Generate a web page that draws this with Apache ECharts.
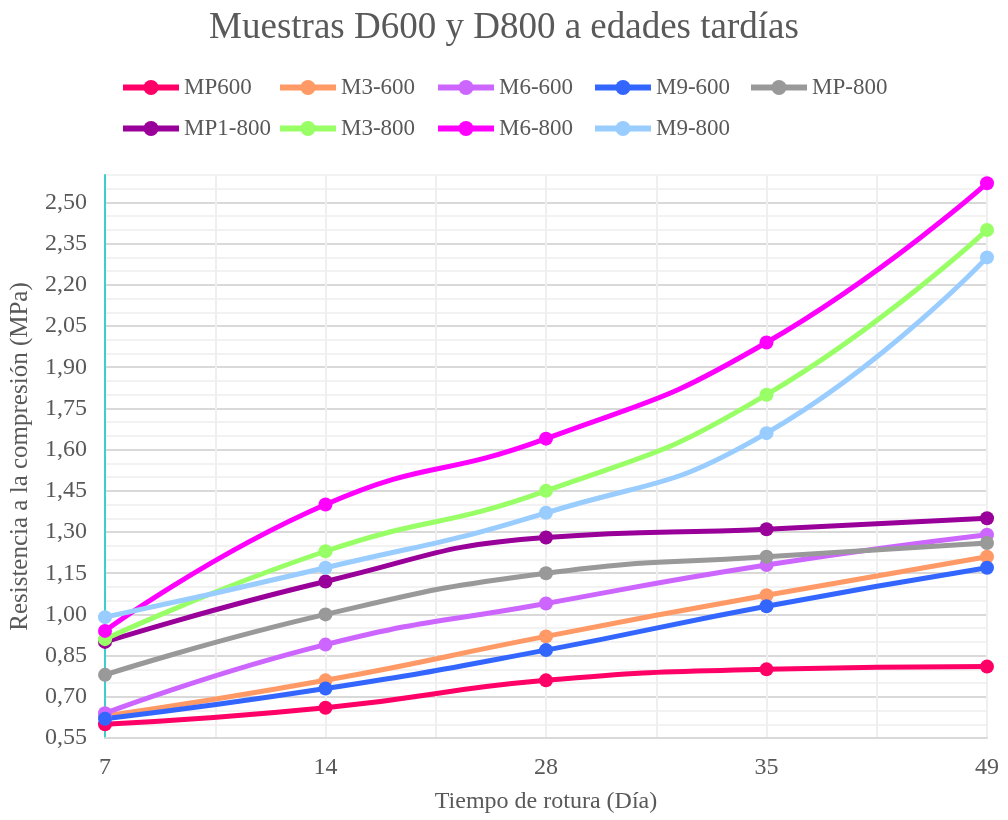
<!DOCTYPE html>
<html>
<head>
<meta charset="utf-8">
<title>Muestras D600 y D800</title>
<script src="https://cdn.jsdelivr.net/npm/echarts@6/dist/echarts.min.js"></script>
<style>
  html, body { margin: 0; padding: 0; background: #ffffff; }
  #chart { width: 1008px; height: 820px; }
</style>
</head>
<body>
<div id="chart"></div>
<script>
// dias de rotura (eje x)
var dias = ['7', '14', '28', '35', '49']

// resistencia a la compresion (MPa)
var mp600 = [0.60, 0.66, 0.76, 0.80, 0.81]
var m3_600 = [0.63, 0.76, 0.92, 1.07, 1.21]
var m6_600 = [0.64, 0.89, 1.04, 1.18, 1.29]
var m9_600 = [0.62, 0.73, 0.87, 1.03, 1.17]
var mp_800 = [0.78, 1.00, 1.15, 1.21, 1.26]
var mp1_800 = [0.90, 1.12, 1.28, 1.31, 1.35]
var m3_800 = [0.91, 1.23, 1.45, 1.80, 2.40]
var m6_800 = [0.94, 1.40, 1.64, 1.99, 2.57]
var m9_800 = [0.99, 1.17, 1.37, 1.66, 2.30]

var nombres = ['MP600', 'M3-600', 'M6-600', 'M9-600', 'MP-800', 'MP1-800', 'M3-800', 'M6-800', 'M9-800']
var valores = [mp600, m3_600, m6_600, m9_600, mp_800, mp1_800, m3_800, m6_800, m9_800]
var colores = ['#FF0066', '#FF9966', '#CC66FF', '#3366FF', '#999999', '#990099', '#99FF66', '#FF00FF', '#99CCFF']

var fuente = "'Liberation Serif', 'Times New Roman', serif"
var gris = '#595959'

var chart = echarts.init(document.getElementById('chart'))

// una leyenda por serie, en columnas como en Excel
var colLeft = [120, 277, 435, 592, 748]
var filaTop = [76, 117]

var leyendas = nombres.map(function (n, i) {
  return {
    data: [n],
    left: colLeft[i % 5],
    top: filaTop[Math.floor(i / 5)],
    padding: 0,
    itemWidth: 56,
    itemHeight: 19,
    lineStyle: { width: 6 },
    textStyle: {
      fontFamily: fuente,
      fontSize: 23,
      color: gris
    }
  }
})

var series = nombres.map(function (n, i) {
  return {
    name: n,
    type: 'line',
    data: valores[i],
    smooth: true,
    symbol: 'circle',
    symbolSize: 14,
    color: colores[i],
    lineStyle: { width: 5, color: colores[i] },
    itemStyle: { color: colores[i] }
  }
})

var option = {
  animation: false,
  title: {
    text: 'Muestras D600 y D800 a edades tardías',
    left: 'center',
    top: 5,
    textStyle: {
      fontFamily: fuente,
      fontSize: 37,
      fontWeight: 'normal',
      color: gris
    }
  },
  legend: leyendas,
  grid: {
    left: 105,
    right: 21,
    top: 175,
    bottom: 82
  },
  xAxis: [
    {
      type: 'category',
      data: dias,
      boundaryGap: false,
      name: 'Tiempo de rotura (Día)',
      nameLocation: 'middle',
      nameGap: 52,
      nameTextStyle: { fontFamily: fuente, fontSize: 24, color: gris },
      axisLine: { show: true, lineStyle: { color: '#d9d9d9', width: 2 } },
      axisTick: { show: false },
      axisLabel: { fontFamily: fuente, fontSize: 24, color: gris, margin: 18 },
      splitLine: { show: false }
    },
    {
      // solo para las lineas verticales de la cuadricula
      type: 'value',
      min: 0,
      max: 4,
      interval: 0.5,
      position: 'top',
      axisLine: { show: false },
      axisTick: { show: false },
      axisLabel: { show: false },
      splitLine: { show: true, lineStyle: { color: '#efefef', width: 2 } }
    }
  ],
  yAxis: {
    type: 'value',
    min: 0.55,
    max: 2.6,
    interval: 0.05,
    name: 'Resistencia a la compresión (MPa)',
    nameLocation: 'middle',
    nameGap: 72,
    nameTextStyle: { fontFamily: fuente, fontSize: 25, color: gris },
    axisLine: { show: true, lineStyle: { color: '#3CCFCF', width: 2 } },
    axisTick: { show: false },
    axisLabel: {
      fontFamily: fuente,
      fontSize: 24,
      color: gris,
      margin: 18,
      formatter: function (v) {
        var c = Math.round((v - 0.55) * 100)
        if (c % 15 !== 0 || v > 2.51) return ''
        return v.toFixed(2).replace('.', ',')
      }
    },
    splitLine: {
      show: true,
      lineStyle: { color: ['#d9d9d9', '#f2f2f2', '#f2f2f2'], width: 2 }
    }
  },
  series: series
}

chart.setOption(option)
</script>
</body>
</html>
